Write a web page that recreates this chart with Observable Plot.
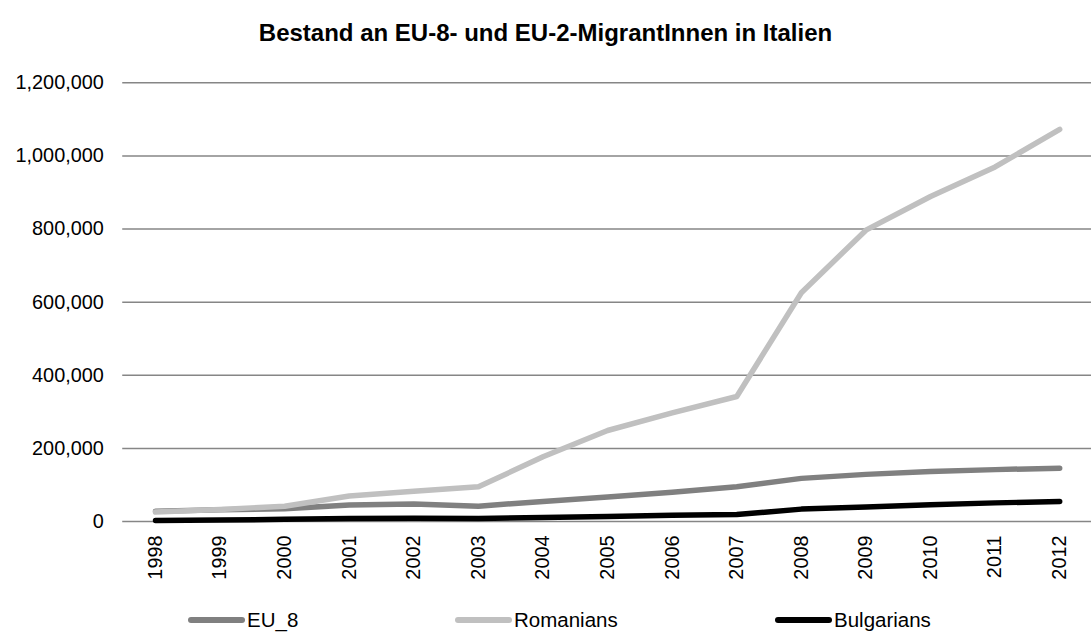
<!DOCTYPE html>
<html>
<head>
<meta charset="utf-8">
<script src="https://cdn.jsdelivr.net/npm/d3@7"></script>
<script src="https://cdn.jsdelivr.net/npm/@observablehq/plot@0.6"></script>
<style>
  html, body { margin: 0; padding: 0; background: #fff; overflow: hidden; width: 1091px; height: 639px; }
  body { font-family: "Liberation Sans", Arial, sans-serif; color: #000; }
  #title { height: 60px; line-height: 66px; text-align: center; font-weight: bold; font-size: 24px; }
  #chart svg { display: block; }
  #legend { position: absolute; top: 600px; left: 0; width: 1091px; height: 39px; }
  .item { position: absolute; top: 0; height: 39px; display: flex; align-items: center; font-size: 20.5px; }
  .item svg { margin-right: 2px; }
</style>
</head>
<body>
<div id="title">Bestand an EU-8- und EU-2-MigrantInnen in Italien</div>
<div id="chart"></div>
<div id="legend"></div>
<script>
const years = [1998,1999,2000,2001,2002,2003,2004,2005,2006,2007,2008,2009,2010,2011,2012];
const eu8 = [28000,32000,35000,45000,48000,42000,55000,67000,80000,95000,118000,129000,137000,142000,146000];
const romanians = [26000,33000,42000,70000,83000,95000,177000,249000,297000,342000,626000,797000,889000,970000,1073000];
const bulgarians = [3000,4000,6000,8000,9000,8000,11000,14000,17000,19000,34000,40000,46000,51000,55000];
const yTicks = [0,200000,400000,600000,800000,1000000,1200000];
const seriesNames = ["EU_8","Romanians","Bulgarians"];
const seriesColors = ["#808080","#c0c0c0","#000000"];

const seriesValues = [eu8, romanians, bulgarians];
const data = [];
seriesNames.forEach((name, i) => {
  years.forEach((y, j) => data.push({series: name, year: String(y), value: seriesValues[i][j]}));
});

const fmt = d3.format(",");
const chart = Plot.plot({
  width: 1098,
  height: 540,
  marginLeft: 123,
  marginRight: 0,
  marginTop: 22.5,
  marginBottom: 76,
  style: {fontFamily: "'Liberation Sans', Arial, sans-serif", fontSize: "20px", color: "#000", background: "transparent", overflow: "visible"},
  x: {type: "point", domain: years.map(String), padding: 0.5, label: null},
  y: {domain: [0, 1200000], label: null},
  color: {domain: seriesNames, range: seriesColors},
  marks: [
    Plot.ruleY(yTicks, {stroke: "#868686", strokeWidth: 1.5}),
    Plot.axisY({ticks: yTicks, tickSize: 0, tickPadding: 19, tickFormat: fmt, fontSize: 20, label: null}),
    Plot.axisX({tickSize: 0, tickPadding: 14, tickRotate: -90, fontSize: 20, label: null}),
    Plot.line(data, {x: "year", y: "value", z: "series", stroke: "series", strokeWidth: 5.5, strokeLinecap: "round", strokeLinejoin: "round"})
  ]
});
document.getElementById("chart").appendChild(chart);

const legendX = [188, 455, 775];
const legend = document.getElementById("legend");
seriesNames.forEach((name, i) => {
  const div = document.createElement("div");
  div.className = "item";
  div.style.left = legendX[i] + "px";
  div.innerHTML = `<svg width="57" height="12"><line x1="3" y1="6" x2="54" y2="6" stroke="${seriesColors[i]}" stroke-width="6" stroke-linecap="round"/></svg><span>${name}</span>`;
  legend.appendChild(div);
});
</script>
</body>
</html>
